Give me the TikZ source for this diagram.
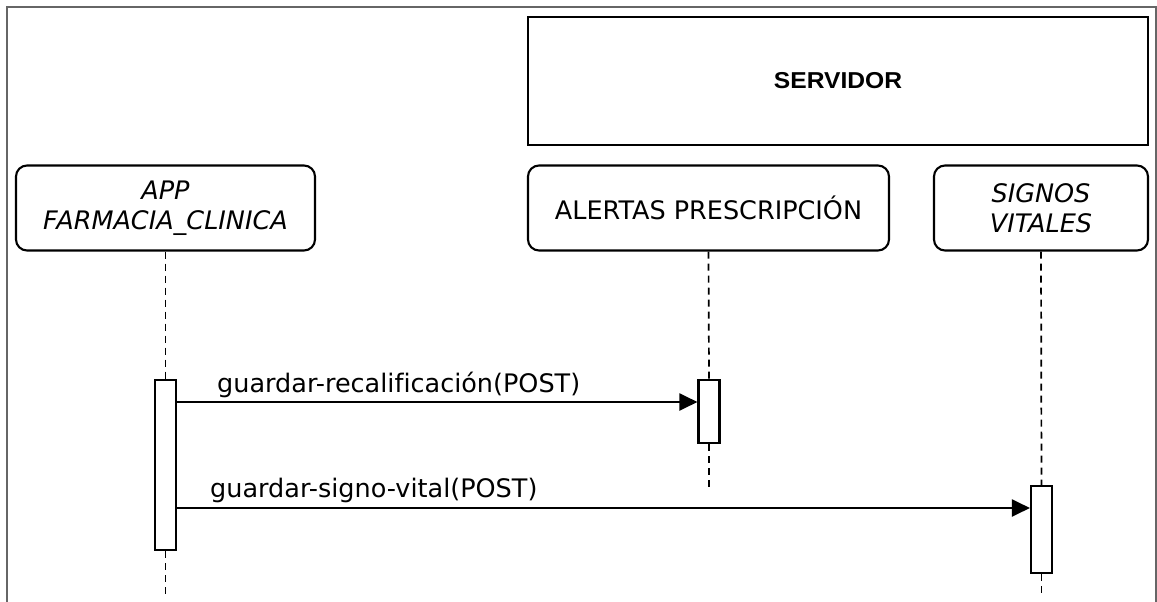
\documentclass[tikz,border=0pt]{standalone}
\usepackage{fontspec}
\setmainfont{DejaVu Sans}[Ligatures=NoCommon]
\newfontfamily\srvfont{Liberation Sans}[FakeStretch=1.07]
\usetikzlibrary{arrows.meta}
\tikzset{
  frameline/.style={draw=black!60, line width=1.6pt},
  life/.style={draw, rounded corners=11pt, line width=2.1pt, inner sep=0pt, align=center, font=\fontsize{25.5}{30}\selectfont},
  act/.style={draw, fill=white, line width=2.1pt, minimum width=21pt, inner sep=0pt},
  lifeline/.style={line width=1.7pt, dash pattern=on 7pt off 5pt},
  msg/.style={line width=2pt, -{Triangle[length=18pt,width=17pt]}},
  lbl/.style={font=\fontsize{25.5}{30}\selectfont, anchor=base west, inner sep=0pt}
}
\begin{document}
\begin{tikzpicture}[x=1pt,y=-1pt]
\useasboundingbox (0,0) rectangle (1157,602);
\draw[frameline] (7,602) -- (7,7) -- (1156,7) -- (1156,602);
% server
\node[draw, line width=2.1pt, minimum width=620pt, minimum height=128pt, inner sep=0pt,
      font=\srvfont\fontsize{23}{26}\selectfont\bfseries] (srv) at (838,81) {SERVIDOR};
% lifeline heads
\node[life, minimum width=299pt, minimum height=85pt] (app) at (165.5,208) {\itshape APP\\\itshape FARMACIA\_CLINICA};
\node[life, minimum width=361pt, minimum height=85pt] (ale) at (708.5,208) {\raisebox{-3pt}{ALERTAS PRESCRIPCIÓN}};
\node[life, minimum width=214pt, minimum height=85pt] (sig) at (1041,208) {\itshape SIGNOS\\\itshape VITALES};
% activations
\node[act, minimum height=170pt] (a1) at (165.5,465) {};
\node[act, minimum height=63pt] (a2) at (709,411.5) {};
\node[act, minimum height=87pt] (a3) at (1041.5,529.5) {};
% end points of lifelines
\coordinate (e1) at (165.5,594);
\coordinate (e2) at (709,490);
\coordinate (e3) at (1041.5,594);
% lifelines
\draw[lifeline] (app.south) -- (a1.north);
\draw[lifeline] (a1.south) -- (e1);
\draw[lifeline] (ale.south) -- (a2.north);
\draw[lifeline] (a2.south) -- (e2);
\draw[lifeline] (sig.south) -- (a3.north);
\draw[lifeline] (a3.south) -- (e3);
% messages
\draw[msg] (a1.east |- 0,402) -- (a2.west |- 0,402);
\draw[msg] (a1.east |- 0,508) -- (a3.west |- 0,508);
\node[lbl] (l1) at (217,392) {guardar-recalificación(POST)};
\node[lbl] (l2) at (210,497) {guardar-signo-vital(POST)};
\end{tikzpicture}
\end{document}
